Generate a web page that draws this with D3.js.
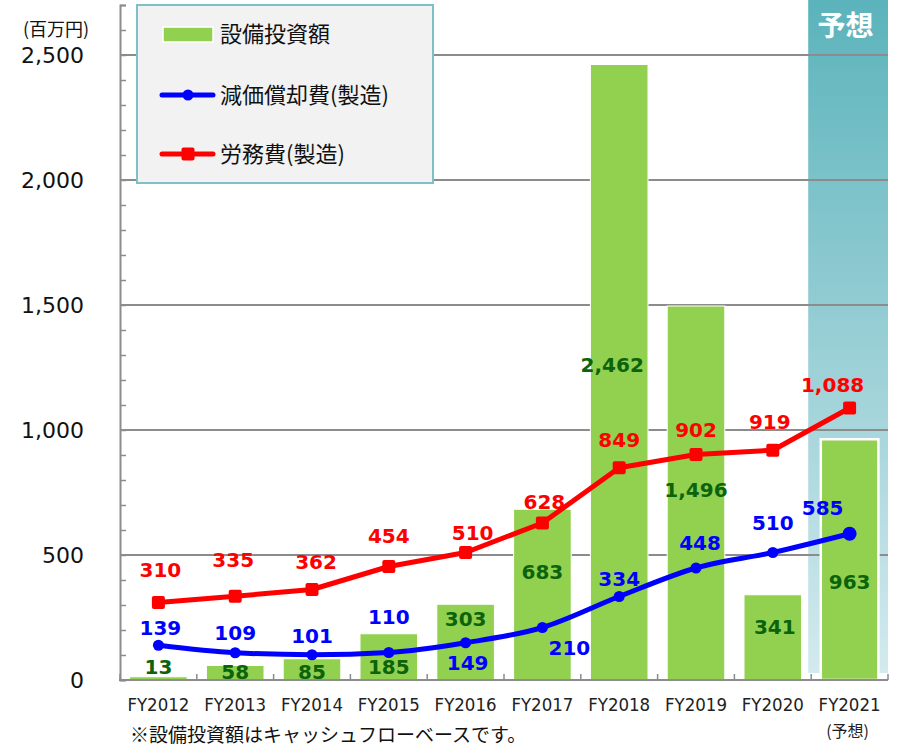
<!DOCTYPE html>
<html><head><meta charset="utf-8">
<script src="https://cdn.jsdelivr.net/npm/d3@7"></script>
<style>body{margin:0;background:#fff}svg{display:block}</style></head>
<body><svg id="c" width="903" height="749"></svg>
<script>
// ---- data ----
const categories = ["FY2012","FY2013","FY2014","FY2015","FY2016","FY2017","FY2018","FY2019","FY2020","FY2021"];
const capex = [13,58,85,185,303,683,2462,1496,341,963];
const depreciation = [139,109,101,110,149,210,334,448,510,585];
const labor = [310,335,362,454,510,628,849,902,919,1088];
const yTicks = [0,500,1000,1500,2000,2500];
const forecastIndex = 9;
const seriesNames = ["設備投資額","減価償却費(製造)","労務費(製造)"];

// ---- layout (label offsets in px) ----
const capexLabelDx = [0,0,0,0,0,0,-7,0,2,0];
const capexLabelDy = [-10,6,13,33,15,63,300,184,32,143];
const depLabelDx = [2,0,0,0,2,27,0,4,0,-27];
const depLabelDy = [-17,-20,-19,-36,20,20,-18,-25,-30,-26];
const laborLabelDx = [2,-2,4,0,7,2,0,0,-3,-17];
const laborLabelDy = [-33,-36,-28,-31,-20,-21,-28,-25,-28,-23];

const svg = d3.select("#c");
const L = 120, R = 888, T = 5, B = 680;
const x = d3.scaleBand().domain(categories).range([L, R]).paddingInner(0.25).paddingOuter(0.125);
const xb = d3.scaleBand().domain(categories).range([L, R]);
const y = d3.scaleLinear().domain([0, 2700]).range([B, T]);
const num = d3.format(",");
const labelFont = "'DejaVu Sans', Verdana, sans-serif";
const jpFont = "'Noto Sans CJK JP', 'Noto Sans', sans-serif";

// forecast background
const defs = svg.append("defs");
const g = defs.append("linearGradient").attr("id","fc").attr("x1",0).attr("y1",0).attr("x2",0).attr("y2",1);
g.append("stop").attr("offset","0%").attr("stop-color","#5bb3bb");
g.append("stop").attr("offset","100%").attr("stop-color","#d3eaee");
const fx = xb(categories[forecastIndex]);
svg.append("rect").attr("x", fx - 3).attr("y", 0).attr("width", R - fx + 3).attr("height", B - 7)
  .attr("fill", "url(#fc)");
svg.append("text").attr("x", fx + xb.bandwidth()/2 - 4).attr("y", 36).attr("text-anchor","middle")
  .attr("font-family", jpFont).attr("font-weight","bold").attr("font-size", 28).attr("fill","#fff").text("予想");

// gridlines
svg.append("g").selectAll("line").data(yTicks.filter(d => d > 0)).join("line")
  .attr("x1", L).attr("x2", R).attr("y1", d => y(d)).attr("y2", d => y(d))
  .attr("stroke", "#8c8c8c").attr("stroke-width", 2);

// bars
svg.append("g").selectAll("rect").data(capex).join("rect")
  .attr("x", (d,i) => x(categories[i])).attr("width", x.bandwidth())
  .attr("y", d => y(d)).attr("height", d => B - y(d))
  .attr("fill", "#92d050").attr("stroke", "#fff").attr("stroke-width", (d,i) => i === forecastIndex ? 2.5 : 1);

// axes
const yAxis = d3.axisRight(y).tickValues(d3.range(0, 2701, 100)).tickSize(6).tickFormat("");
const ya = svg.append("g").attr("transform", `translate(${L},0)`).call(yAxis);
ya.select(".domain").attr("stroke", "#8c8c8c").attr("stroke-width", 2);
ya.selectAll(".tick line").attr("stroke", "#8c8c8c").attr("stroke-width", 1.5);
svg.append("g").selectAll("text").data(yTicks).join("text")
  .attr("x", 84).attr("y", d => y(d) + 8).attr("text-anchor", "end")
  .attr("font-family", labelFont).attr("font-size", 22).attr("fill", "#111")
  .text(d => num(d));
svg.append("text").attr("x", 56).attr("y", 36).attr("text-anchor","middle")
  .attr("font-family", jpFont).attr("font-size", 18).attr("fill", "#111").text("(百万円)");

const xTickPos = categories.map(c => xb(c)).concat([R]);
svg.append("g").selectAll("line").data(xTickPos).join("line")
  .attr("x1", d => d).attr("x2", d => d).attr("y1", B).attr("y2", B - 6)
  .attr("stroke", "#8c8c8c").attr("stroke-width", 1.5);
svg.append("line").attr("x1", L - 1).attr("x2", R).attr("y1", B).attr("y2", B)
  .attr("stroke", "#8c8c8c").attr("stroke-width", 2);
svg.append("g").selectAll("text").data(categories).join("text")
  .attr("x", d => xb(d) + xb.bandwidth()/2).attr("y", 711).attr("text-anchor","middle")
  .attr("font-family", labelFont).attr("font-size", 17).attr("fill", "#222")
  .attr("textLength", 62).attr("lengthAdjust","spacingAndGlyphs")
  .text(d => d);
svg.append("text").attr("x", xb(categories[forecastIndex]) + xb.bandwidth()/2 - 2).attr("y", 737)
  .attr("text-anchor","middle").attr("font-family", jpFont).attr("font-size", 16).attr("fill","#222").text("(予想)");
svg.append("text").attr("x", 130).attr("y", 742)
  .attr("font-family", jpFont).attr("font-size", 19).attr("fill","#111").text("※設備投資額はキャッシュフローベースです。");

// lines
const cx = i => xb(categories[i]) + xb.bandwidth()/2;
const blueLine = d3.line().x((d,i) => cx(i)).y(d => y(d)).curve(d3.curveMonotoneX);
const redLine = d3.line().x((d,i) => cx(i)).y(d => y(d));
svg.append("path").attr("d", blueLine(depreciation)).attr("fill","none").attr("stroke","#0000ff").attr("stroke-width",5).attr("stroke-linejoin","round");
svg.append("g").selectAll("circle").data(depreciation).join("circle")
  .attr("cx", (d,i) => cx(i)).attr("cy", d => y(d)).attr("r", (d,i) => i === forecastIndex ? 7 : 5.5).attr("fill","#0000ff");
svg.append("path").attr("d", redLine(labor)).attr("fill","none").attr("stroke","#ff0000").attr("stroke-width",5).attr("stroke-linejoin","round");
svg.append("g").selectAll("rect").data(labor).join("rect")
  .attr("x", (d,i) => cx(i) - 6.5).attr("y", d => y(d) - 6.5).attr("width", 13).attr("height", 13).attr("rx", 2)
  .attr("fill","#ff0000");

// value labels
function labels(data, dx, dy, color) {
  svg.append("g").selectAll("text").data(data).join("text")
    .attr("x", (d,i) => cx(i) + dx[i]).attr("y", (d,i) => y(d) + dy[i] + 7)
    .attr("text-anchor","middle").attr("font-family", labelFont).attr("font-weight","bold")
    .attr("font-size", 20).attr("fill", color).text(d => num(d));
}
labels(capex, capexLabelDx, capexLabelDy, "#0b640b");
labels(depreciation, depLabelDx, depLabelDy, "#0000ff");
labels(labor, laborLabelDx, laborLabelDy, "#ff0000");

// legend
const lg = svg.append("g");
lg.append("rect").attr("x", 137).attr("y", 5).attr("width", 296).attr("height", 178)
  .attr("fill", "#f2f2f2").attr("stroke", "#7fc0c6").attr("stroke-width", 2);
lg.append("rect").attr("x", 163).attr("y", 27).attr("width", 50).attr("height", 15)
  .attr("fill", "#92d050").attr("stroke", "#fff").attr("stroke-width", 1.5);
lg.append("line").attr("x1", 162).attr("x2", 213).attr("y1", 95).attr("y2", 95)
  .attr("stroke", "#0000ff").attr("stroke-width", 5).attr("stroke-linecap","round");
lg.append("circle").attr("cx", 188).attr("cy", 95).attr("r", 5.5).attr("fill", "#0000ff");
lg.append("line").attr("x1", 162).attr("x2", 213).attr("y1", 154).attr("y2", 154)
  .attr("stroke", "#ff0000").attr("stroke-width", 5).attr("stroke-linecap","round");
lg.append("rect").attr("x", 181.5).attr("y", 147.5).attr("width", 13).attr("height", 13).attr("rx",2).attr("fill", "#ff0000");
lg.selectAll("text.lt").data(seriesNames).join("text").attr("class","lt")
  .attr("x", 220).attr("y", (d,i) => [34, 95, 154][i] + 8)
  .attr("font-family", jpFont).attr("font-size", 22).attr("fill", "#111").text(d => d);
</script></body></html>
